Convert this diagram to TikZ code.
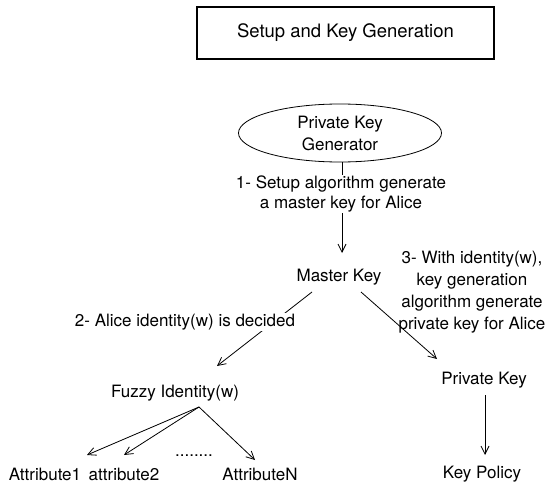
\documentclass[tikz,border=0pt]{standalone}
\usepackage{fontspec}
\setmainfont{TeX Gyre Heros}
\usetikzlibrary{arrows.meta,shapes.geometric,calc}
\begin{document}
\begin{tikzpicture}[x=1pt,y=-1pt,
  txt/.style={font=\fontsize{17}{22}\selectfont, inner sep=1pt, align=center},
  lbl/.style={txt, fill=white},
  arr/.style={draw=black, line width=0.8pt, -{Straight Barb[length=8pt,width=8pt]}}]
\useasboundingbox (0,0) rectangle (550,487);
% nodes
\node[draw, line width=1.6pt, minimum width=297pt, minimum height=52pt, inner sep=0pt,
      font=\fontsize{18.5}{22}\selectfont] (title) at (345.5,33) {Setup and Key Generation};
\node[txt, ellipse, draw, line width=0.8pt, minimum width=203pt, minimum height=58pt,
      inner sep=0pt] (pkg) at (340,133) {Private Key\\Generator};
\node[txt] (mk) at (339,277) {Master Key};
\node[txt] (pk) at (484,380) {Private Key};
\node[txt] (kp) at (482,474) {Key Policy};
\node[txt] (fi) at (175,393) {Fuzzy Identity(w)};
\node[txt] (a1) at (45,474) {Attribute1};
\node[txt] (a2) at (124,474) {attribute2};
\node[txt] (aN) at (260,474) {AttributeN};
\node[txt] (dots) at (194,456) {........};
% connectors
\draw[arr] ($(pkg.south)+(2,0)$) -- ($(mk.center)+(3,-24)$);
\draw[arr] ($(mk.center)+(-27,15)$) -- ($(fi.center)+(42,-27)$);
\draw[arr] ($(mk.center)+(22,15)$) -- ($(pk.center)+(-47,-21)$);
\draw[arr] ($(pk.center)+(1,15)$) -- ($(kp.center)+(3,-19)$);
\draw[arr] ($(fi.center)+(24,14)$) -- ($(a1.center)+(42,-19)$);
\draw[arr] ($(fi.center)+(24,14)$) -- ($(a2.center)+(0,-19)$);
\draw[arr] ($(fi.center)+(24,14)$) -- ($(aN.center)+(-5,-14)$);
% labels
\node[lbl, font=\fontsize{17}{20.5}\selectfont] (l1) at (341,194) {1- Setup algorithm generate\\a master key for Alice};
\node[lbl] (l2) at (185,322) {2- Alice identity(w) is decided};
\node[txt] (l3) at (472,292) {3- With identity(w),\\key generation\\algorithm generate\\private key for Alice};
\end{tikzpicture}
\end{document}
